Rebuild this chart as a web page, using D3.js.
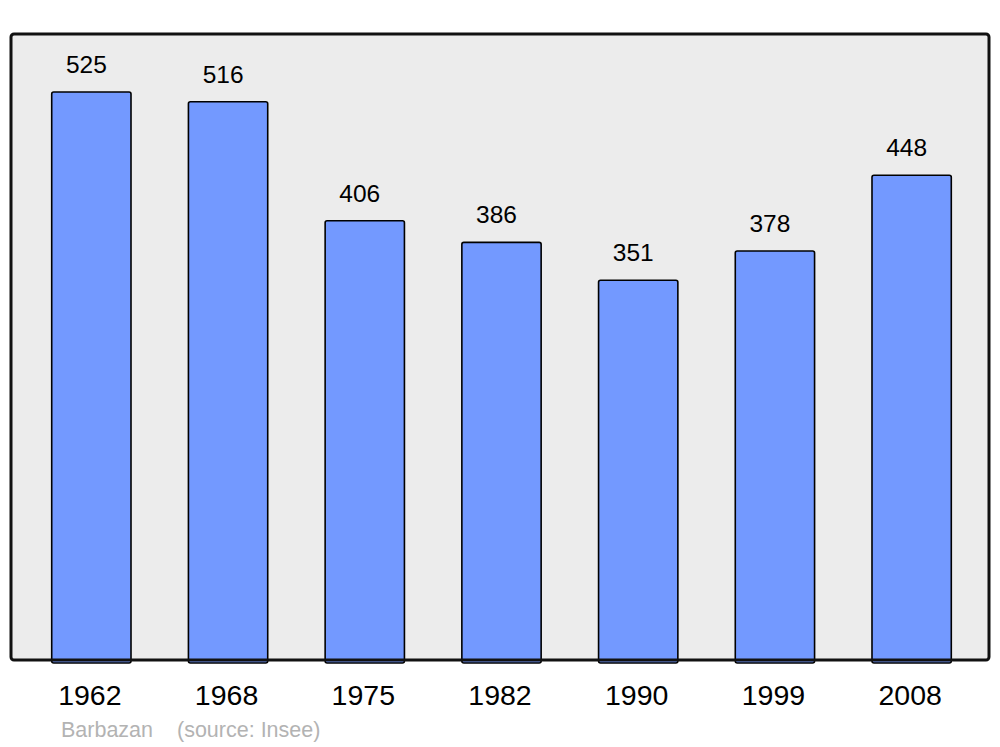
<!DOCTYPE html>
<html>
<head>
<meta charset="utf-8">
<script src="https://cdn.jsdelivr.net/npm/d3@7"></script>
<style>
  body { margin: 0; background: #fff; }
  text { font-family: "Liberation Sans", Arial, sans-serif; }
</style>
</head>
<body>
<div id="chart"></div>
<script>
// Data
const years = ['1962', '1968', '1975', '1982', '1990', '1999', '2008'];
const population = [525, 516, 406, 386, 351, 378, 448];
const townName = 'Barbazan';
const sourceNote = '(source: Insee)';

// Canvas
const svgWidth = 1000;
const svgHeight = 747;
const frame = {left: 11, top: 34, right: 989, bottom: 660};

const svg = d3.select('#chart')
    .append('svg')
    .attr('width', svgWidth)
    .attr('height', svgHeight);

// Plot background
svg.append('rect')
    .attr('x', frame.left)
    .attr('y', frame.top)
    .attr('width', frame.right - frame.left)
    .attr('height', frame.bottom - frame.top)
    .attr('rx', 3)
    .attr('fill', '#ececec');

// Scales
const xScale = d3.scaleBand()
    .domain(years)
    .range([23, 980])
    .paddingInner(0.42)
    .paddingOuter(0.21);

const yScale = d3.scaleLinear()
    .domain([0, 578.6])
    .range([frame.bottom, frame.top]);

const dataset = years.map((y, i) => [y, population[i]]);

// Bars
svg.selectAll('rect.bar')
    .data(dataset)
    .enter()
    .append('rect')
    .attr('class', 'bar')
    .attr('x', d => xScale(d[0]))
    .attr('y', d => yScale(d[1]))
    .attr('width', xScale.bandwidth())
    .attr('height', d => yScale(0) - yScale(d[1]) + 3)
    .attr('rx', 2)
    .attr('fill', '#7399ff')
    .attr('stroke', '#000')
    .attr('stroke-width', 1.6);

// Value labels
svg.selectAll('text.value')
    .data(dataset)
    .enter()
    .append('text')
    .attr('class', 'value')
    .attr('x', d => xScale(d[0]) + xScale.bandwidth() / 2 - 5)
    .attr('y', d => yScale(d[1]) - 19)
    .attr('text-anchor', 'middle')
    .attr('font-size', '24.5px')
    .attr('fill', '#000')
    .text(d => d[1]);

// Frame border on top
svg.append('rect')
    .attr('x', frame.left)
    .attr('y', frame.top)
    .attr('width', frame.right - frame.left)
    .attr('height', frame.bottom - frame.top)
    .attr('rx', 3)
    .attr('fill', 'none')
    .attr('stroke', '#111')
    .attr('stroke-width', 3);

// X axis labels
const xAxis = d3.axisBottom(xScale).tickSize(0).tickPadding(0);
const gx = svg.append('g')
    .attr('transform', `translate(-1.5, 0)`)
    .call(xAxis);
gx.select('.domain').remove();
gx.selectAll('text')
    .attr('y', 705)
    .attr('dy', null)
    .attr('font-size', '28.5px')
    .attr('font-family', '"Liberation Sans", Arial, sans-serif')
    .attr('fill', '#000');

// Source note
svg.append('text')
    .attr('x', 61)
    .attr('y', 737)
    .attr('font-size', '21.5px')
    .attr('fill', '#b3b3b3')
    .text(townName);

svg.append('text')
    .attr('x', 177)
    .attr('y', 737)
    .attr('font-size', '21.5px')
    .attr('fill', '#b3b3b3')
    .text(sourceNote);
</script>
</body>
</html>
